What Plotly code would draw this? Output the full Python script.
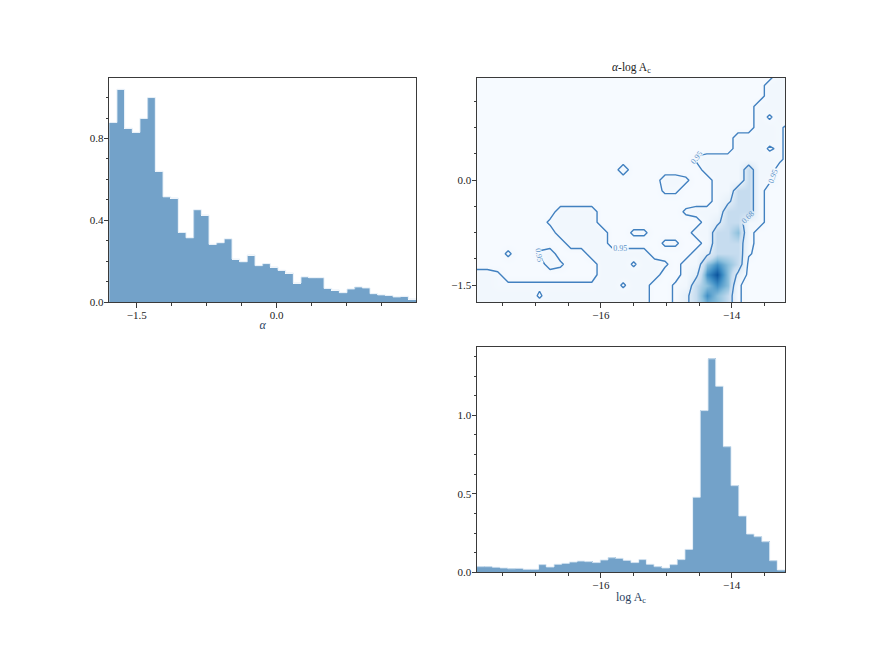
import plotly.graph_objects as go

# ---------------- data ----------------
alpha_range = [-1.794, 1.493]          # histogram / axis range of alpha
alpha_density = [0.878, 1.04, 0.85, 0.83, 0.898, 1.0, 0.64, 0.515, 0.509, 0.341,
                 0.315, 0.452, 0.426, 0.283, 0.291, 0.31, 0.211, 0.198, 0.231, 0.179,
                 0.189, 0.172, 0.156, 0.143, 0.094, 0.124, 0.12, 0.12, 0.068, 0.06,
                 0.047, 0.065, 0.075, 0.07, 0.042, 0.036, 0.033, 0.026, 0.029, 0.016]

logA_range = [-17.897, -13.184]        # histogram / axis range of log A_c
logA_density = [0.036, 0.036, 0.032, 0.028, 0.023, 0.025, 0.019, 0.019, 0.049, 0.034,
                0.051, 0.057, 0.066, 0.072, 0.068, 0.062, 0.079, 0.093, 0.089, 0.076,
                0.062, 0.081, 0.051, 0.036, 0.028, 0.049, 0.081, 0.146, 0.478, 1.03,
                1.36, 1.185, 0.80, 0.552, 0.359, 0.244, 0.227, 0.195, 0.074, 0.015]

contour_alpha_range = [-1.743, 1.465]

grid_logA = [-17.9, -17.74, -17.58, -17.42, -17.26, -17.1, -16.94, -16.78, -16.62, -16.46,
             -16.3, -16.14, -15.98, -15.82, -15.66, -15.5, -15.34, -15.18, -15.02, -14.86,
             -14.7, -14.54, -14.38, -14.22, -14.06, -13.9, -13.74, -13.58, -13.42, -13.26,
             -13.1]
grid_alpha = [-1.8, -1.65, -1.5, -1.35, -1.2, -1.05, -0.9, -0.75, -0.6, -0.45, -0.3,
              -0.15, 0.0, 0.15, 0.3, 0.45, 0.6, 0.75, 0.9, 1.05, 1.2, 1.35, 1.5]

# enclosed-probability level of each grid node, coded by letter
level_code = {'.': 1.0, 'h': 0.965, 'g': 0.93, 'a': 0.9, 'm': 0.75,
              'b': 0.5, 'c': 0.35, 'd': 0.2, 'e': 0.05}
# rows from alpha = 1.5 (top) down to alpha = -1.8 (bottom); groups of 10 columns
credible_rows = [
    ".......... .......... .........a a",
    ".......... .......... ........aa a",
    ".......... .......... ........aa a",
    ".......... .......... .......aaa a",
    ".......... .......... .......aha a",
    ".......... .......... .......aag .",
    ".......... .......... .....aaaag .",
    ".......... .......... .....aaahg .",
    ".......... .......... .gaaaaaaag .",
    ".......... ....a..... ..aaaabaa. .",
    ".......... ........aa g..aaabag. .",
    ".......... ........gg ...aabba.. .",
    ".......... .......... ...ambba.. .",
    "........aa aa........ gaaabbba.. .",
    ".......gaa aa........ ..ambbaa.. .",
    "........aa aaa..gg... .aabbca... .",
    ".........a aaa.....gg ..abbba... .",
    "...g..ga.. .aaaaaa... .ambbbg... .",
    ".......ag. ..aaahaag. aacdcb.... .",
    "aag....... ..aaaaaa.. amdecm.... .",
    "aagggggggg ggaahaa..g abcdcg.... .",
    "aaaaaahaaa aaaaaaa..g mbdcbg.... .",
    "aaaaaaaaaa aaaaaaa..g mbccbg.... .",
]

# ---------------- styling ----------------
FONT = "Liberation Serif, DejaVu Serif, serif"
FILL = "#73a2c9"
FRAME = "#3a3a3a"
W, H = 872, 654
OFF = 8  # page body margin of the html page


def xdom(a, b):
    return [(a - OFF) / W, (b - OFF) / W]


def ydom(top, bottom):
    return [(H - (bottom - OFF)) / H, (H - (top - OFF)) / H]


def hist_traces(vals, rng, xa, ya):
    n = len(vals)
    w = (rng[1] - rng[0]) / n
    edges = [rng[0] + k * w for k in range(n + 1)]
    centers = [(edges[k] + edges[k + 1]) / 2 for k in range(n)]
    bar = go.Bar(x=centers, y=vals, width=[w] * n, marker=dict(color=FILL, line=dict(width=0)),
                 xaxis=xa, yaxis=ya, showlegend=False, hoverinfo="skip")
    step = go.Scatter(x=edges, y=vals + [vals[-1]], mode="lines",
                      line=dict(shape="hv", color="rgba(225,236,246,0.9)", width=1),
                      xaxis=xa, yaxis=ya, showlegend=False, hoverinfo="skip")
    return [bar, step]


z = [[level_code[ch] for ch in row.replace(" ", "")] for row in reversed(credible_rows)]

fig = go.Figure()
for t in hist_traces(alpha_density, alpha_range, "x", "y"):
    fig.add_trace(t)
for t in hist_traces(logA_density, logA_range, "x3", "y3"):
    fig.add_trace(t)

blues = [[0.0, "#08306b"], [0.05, "#0b559f"], [0.2, "#3f8fc5"], [0.35, "#8cc0dd"],
         [0.5, "#c6dcef"], [0.75, "#e6f0f9"], [0.9, "#f1f7fd"], [1.0, "#f6faff"]]
fig.add_trace(go.Heatmap(x=grid_logA, y=grid_alpha, z=z, zmin=0, zmax=1, colorscale=blues,
                         zsmooth="best", showscale=False, xaxis="x2", yaxis="y2",
                         hoverinfo="skip", showlegend=False))
fig.add_trace(go.Contour(x=grid_logA, y=grid_alpha, z=z,
                         contours=dict(coloring="none", start=0.68, end=0.96, size=0.27,
                                       showlabels=True, labelformat=".2f",
                                       labelfont=dict(family=FONT, size=8, color="#5b92c8")),
                         line=dict(color="#4281c0", width=1.4, smoothing=0),
                         showscale=False, showlegend=False, xaxis="x2", yaxis="y2",
                         hoverinfo="skip"))


def axis_style(**kw):
    base = dict(showline=True, mirror=True, linecolor=FRAME, linewidth=1, showgrid=False,
                zeroline=False, ticks="outside", ticklen=4.5, tickwidth=1, tickcolor=FRAME,
                ticklabelstandoff=-2,
                tickfont=dict(family=FONT, size=11, color="#222"))
    base.update(kw)
    return base


def minor(d, t0):
    return dict(dtick=d, tick0=t0, ticks="outside", ticklen=2.5, tickwidth=0.8, tickcolor=FRAME)


fig.update_layout(
    width=W, height=H, margin=dict(l=0, r=0, t=0, b=0, autoexpand=False), showlegend=False,
    paper_bgcolor="white", plot_bgcolor="white", bargap=0,
    xaxis=axis_style(domain=xdom(109.3, 416), range=alpha_range, anchor="y",
                     tickmode="array", tickvals=[-1.5, 0.0], ticktext=["−1.5", "0.0"],
                     minor=minor(0.375, -1.5),
                     title=dict(text="<i>α</i>", standoff=0, font=dict(family=FONT, size=12))),
    yaxis=axis_style(domain=ydom(77.5, 302.3), range=[0, 1.098], anchor="x",
                     tickmode="array", tickvals=[0.0, 0.4, 0.8], ticktext=["0.0", "0.4", "0.8"],
                     minor=minor(0.1, 0)),
    xaxis2=axis_style(domain=xdom(477, 785), range=logA_range, anchor="y2",
                      tickmode="array", tickvals=[-16, -14], ticktext=["−16", "−14"],
                      minor=minor(0.5, -16)),
    yaxis2=axis_style(domain=ydom(77.5, 302.3), range=contour_alpha_range, anchor="x2",
                      tickmode="array", tickvals=[-1.5, 0.0], ticktext=["−1.5", "0.0"],
                      minor=minor(0.375, -1.5)),
    xaxis3=axis_style(domain=xdom(477, 785), range=logA_range, anchor="y3",
                      tickmode="array", tickvals=[-16, -14], ticktext=["−16", "−14"],
                      minor=minor(0.5, -16),
                      title=dict(text="log A<sub>c</sub>", standoff=2, font=dict(family=FONT, size=12))),
    yaxis3=axis_style(domain=ydom(347.3, 572.3), range=[0, 1.433], anchor="x3",
                      tickmode="array", tickvals=[0.0, 0.5, 1.0], ticktext=["0.0", "0.5", "1.0"],
                      minor=minor(0.125, 0)),
    annotations=[dict(text="<i>α</i>-log A<sub>c</sub>", xref="x2 domain", yref="y2 domain",
                      x=0.5, y=1, xanchor="center", yanchor="bottom", yshift=1, showarrow=False,
                      font=dict(family=FONT, size=11.5, color="#222"))],
)

fig.write_html("out.html")
